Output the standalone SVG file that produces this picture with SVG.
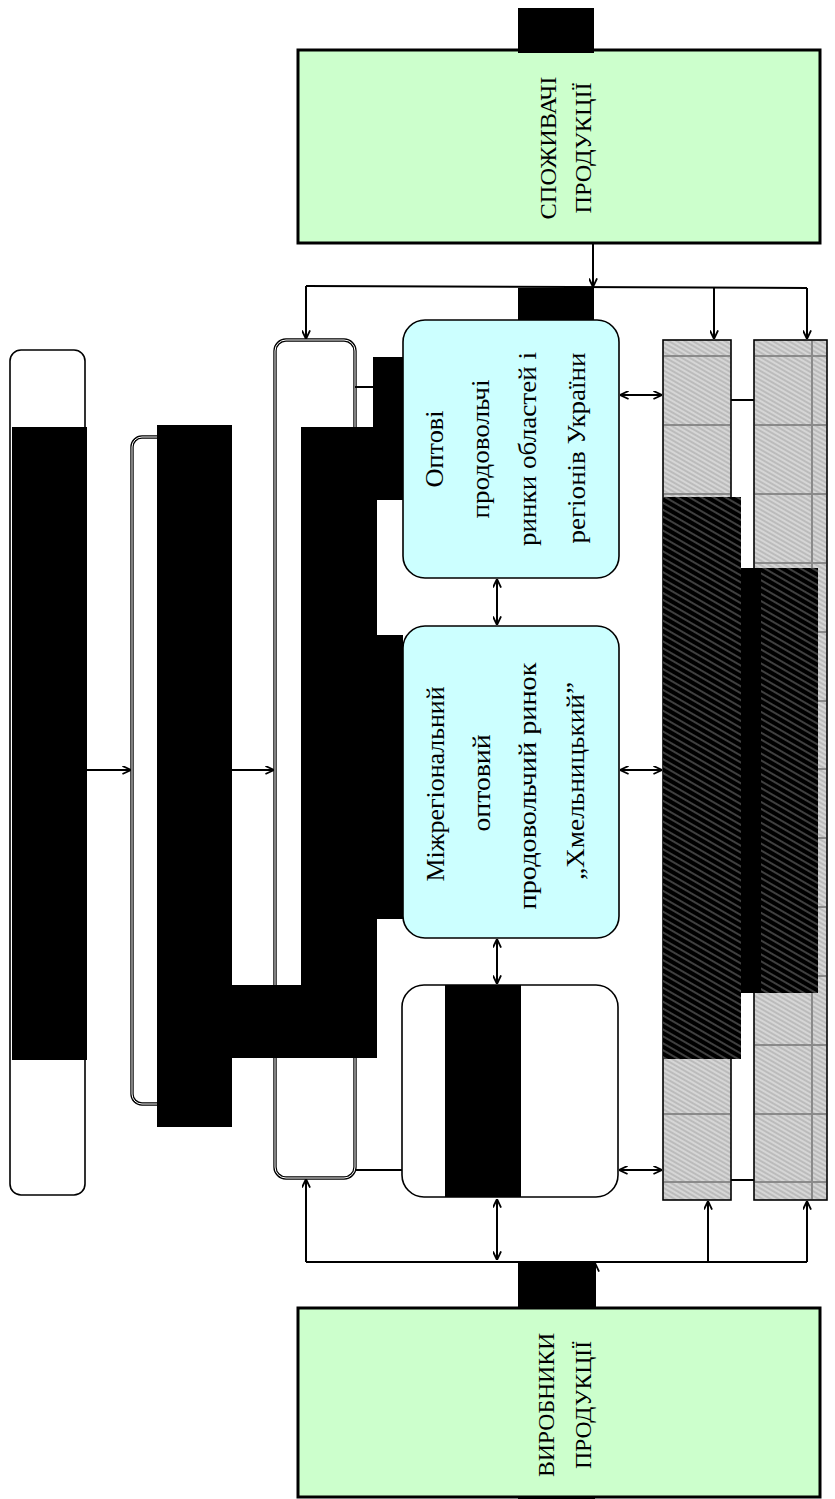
<svg xmlns="http://www.w3.org/2000/svg" width="835" height="1499" viewBox="0 0 835 1499">
<style>
.green{fill:#ccffcc;stroke:#000;stroke-width:3}
.blue{fill:#ccffff;stroke:#000;stroke-width:1.6}
.white{fill:#fff;stroke:#000;stroke-width:1.6}
.dbl{fill:none;stroke:#000;stroke-width:3.4}
.dbli{fill:none;stroke:#fff;stroke-width:1}
.col{fill:url(#lh);stroke:#000;stroke-width:1.6}
.grid{stroke:#8a8a8a;stroke-width:2}
.blk{fill:#000}
.dk{fill:url(#dh)}
.ln{fill:none;stroke:#000;stroke-width:2}
.ar{marker-end:url(#ah)}
.ar2{marker-start:url(#ah);marker-end:url(#ah)}
text{font-family:"Liberation Serif","Times New Roman",serif;fill:#000;text-anchor:middle}
.t1{font-size:25px}
.t2{font-size:24px}
</style>
<defs>
<marker id="ah" viewBox="0 0 10 10" refX="9.5" refY="5" markerWidth="9" markerHeight="9" markerUnits="userSpaceOnUse" orient="auto-start-reverse">
<path d="M0,0.5 L9.5,5 L0,9.5" fill="none" stroke="#000" stroke-width="2"/>
</marker>
<pattern id="lh" width="4" height="4" patternUnits="userSpaceOnUse" patternTransform="rotate(30)">
<rect width="4" height="4" fill="#d6d6d6"/>
<line x1="0" y1="1" x2="4" y2="1" stroke="#9c9c9c" stroke-width="0.9"/>
</pattern>
<pattern id="dh" width="6" height="6" patternUnits="userSpaceOnUse" patternTransform="rotate(30)">
<rect width="6" height="6" fill="#000"/>
<line x1="0" y1="2" x2="6" y2="2" stroke="#6a6a6a" stroke-width="1.2"/>
</pattern>
</defs>

<g id="consumers">
<rect class="green" x="298" y="50" width="522" height="193"/>
<text class="t2" transform="translate(556,148) rotate(-90)" textLength="143" lengthAdjust="spacingAndGlyphs">СПОЖИВАЧІ</text>
<text class="t2" transform="translate(591,148) rotate(-90)" textLength="131" lengthAdjust="spacingAndGlyphs">ПРОДУКЦІЇ</text>
</g>

<g id="producers">
<rect class="green" x="298" y="1308" width="522" height="189"/>
<text class="t2" transform="translate(554,1405) rotate(-90)" textLength="144" lengthAdjust="spacingAndGlyphs">ВИРОБНИКИ</text>
<text class="t2" transform="translate(591,1405) rotate(-90)" textLength="128" lengthAdjust="spacingAndGlyphs">ПРОДУКЦІЇ</text>
</g>

<g id="boxA">
<rect class="white" x="10" y="350" width="75" height="845" rx="11"/>
</g>

<g id="boxB">
<rect class="dbl" x="132" y="437" width="90" height="667" rx="10"/>
<rect class="dbli" x="132" y="437" width="90" height="667" rx="10"/>
</g>

<g id="boxC">
<rect class="dbl" x="275" y="340" width="80" height="838" rx="11"/>
<rect class="dbli" x="275" y="340" width="80" height="838" rx="11"/>
</g>

<g id="wholesale-regional">
<rect class="blue" x="403" y="320" width="216" height="258" rx="22"/>
<text class="t1" transform="translate(443,449) rotate(-90)" textLength="77" lengthAdjust="spacingAndGlyphs">Оптові</text>
<text class="t1" transform="translate(489,449) rotate(-90)" textLength="139" lengthAdjust="spacingAndGlyphs">продовольчі</text>
<text class="t1" transform="translate(536,449) rotate(-90)" textLength="194" lengthAdjust="spacingAndGlyphs">ринки областей і</text>
<text class="t1" transform="translate(585,448) rotate(-90)" textLength="191" lengthAdjust="spacingAndGlyphs">регіонів України</text>
</g>

<g id="khmelnytskyi-market">
<rect class="blue" x="403" y="626" width="216" height="312" rx="22"/>
<text class="t1" transform="translate(444,784) rotate(-90)" textLength="195" lengthAdjust="spacingAndGlyphs">Міжрегіональний</text>
<text class="t1" transform="translate(490,783) rotate(-90)" textLength="97" lengthAdjust="spacingAndGlyphs">оптовий</text>
<text class="t1" transform="translate(536,786) rotate(-90)" textLength="247" lengthAdjust="spacingAndGlyphs">продовольчий ринок</text>
<text class="t1" transform="translate(584,781) rotate(-90)" textLength="198" lengthAdjust="spacingAndGlyphs">„Хмельницький”</text>
</g>

<g id="local-box">
<rect class="white" x="402" y="985" width="216" height="212" rx="22"/>
</g>

<g id="column1">
<rect class="col" x="663" y="340" width="68" height="860"/>
<g class="grid">
<line x1="664" y1="356" x2="730" y2="356"/><line x1="664" y1="425" x2="730" y2="425"/>
<line x1="664" y1="494" x2="730" y2="494"/><line x1="664" y1="1114" x2="730" y2="1114"/>
<line x1="664" y1="1182" x2="730" y2="1182"/>
</g>
</g>

<g id="column2">
<rect class="col" x="754" y="340" width="73" height="860"/>
<g class="grid">
<line x1="755" y1="356" x2="826" y2="356"/><line x1="755" y1="425" x2="826" y2="425"/>
<line x1="755" y1="494" x2="826" y2="494"/><line x1="755" y1="563" x2="826" y2="563"/>
<line x1="755" y1="632" x2="826" y2="632"/><line x1="755" y1="701" x2="826" y2="701"/>
<line x1="755" y1="769" x2="826" y2="769"/><line x1="755" y1="838" x2="826" y2="838"/>
<line x1="755" y1="907" x2="826" y2="907"/><line x1="755" y1="976" x2="826" y2="976"/>
<line x1="755" y1="1045" x2="826" y2="1045"/><line x1="755" y1="1114" x2="826" y2="1114"/>
<line x1="755" y1="1182" x2="826" y2="1182"/>
<line x1="812" y1="341" x2="812" y2="1199"/>
</g>
</g>

<g id="connectors">
<line class="ln ar" x1="87" y1="770" x2="131" y2="770"/>
<line class="ln ar" x1="232" y1="770" x2="274" y2="770"/>
<line class="ln" x1="306" y1="286" x2="807" y2="288"/>
<line class="ln ar" x1="306" y1="286" x2="306" y2="339"/>
<line class="ln ar" x1="593" y1="244" x2="593" y2="287"/>
<line class="ln ar" x1="714" y1="288" x2="714" y2="339"/>
<line class="ln ar" x1="807" y1="288" x2="807" y2="339"/>
<line class="ln" x1="306" y1="1262" x2="807" y2="1262"/>
<line class="ln ar" x1="306" y1="1262" x2="306" y2="1179"/>
<line class="ln ar" x1="595" y1="1308" x2="595" y2="1263"/>
<line class="ln ar" x1="708" y1="1262" x2="708" y2="1201"/>
<line class="ln ar" x1="807" y1="1262" x2="807" y2="1201"/>
<line class="ln" x1="355" y1="387" x2="403" y2="387"/>
<line class="ln" x1="355" y1="1170" x2="402" y2="1170"/>
<line class="ln ar2" x1="497" y1="579" x2="497" y2="625"/>
<line class="ln ar2" x1="497" y1="939" x2="497" y2="984"/>
<line class="ln ar2" x1="497" y1="1199" x2="497" y2="1260"/>
<line class="ln ar2" x1="620" y1="395" x2="662" y2="395"/>
<line class="ln ar2" x1="620" y1="770" x2="662" y2="770"/>
<line class="ln ar2" x1="619" y1="1170" x2="662" y2="1170"/>
<line class="ln" x1="731" y1="400" x2="754" y2="400"/>
<line class="ln" x1="731" y1="1180" x2="754" y2="1180"/>
</g>

<g id="masks">
<rect class="blk" x="12" y="427" width="75" height="633"/>
<rect class="blk" x="157" y="425" width="75" height="702"/>
<rect class="blk" x="232" y="985" width="145" height="73"/>
<rect class="blk" x="301" y="427" width="76" height="631"/>
<rect class="blk" x="373" y="357" width="30" height="143"/>
<rect class="blk" x="377" y="635" width="26" height="284"/>
<rect class="blk" x="445" y="985" width="76" height="212"/>
<rect class="blk" x="518" y="8" width="76" height="45"/>
<rect class="blk" x="518" y="288" width="76" height="32"/>
<rect class="blk" x="518" y="1262" width="77" height="46"/>
<rect class="blk" x="518" y="1496" width="77" height="3"/>
<rect class="dk" x="663" y="497" width="78" height="562"/>
<rect class="blk" x="741" y="568" width="20" height="425"/>
<rect class="dk" x="761" y="568" width="57" height="425"/>
</g>
</svg>
